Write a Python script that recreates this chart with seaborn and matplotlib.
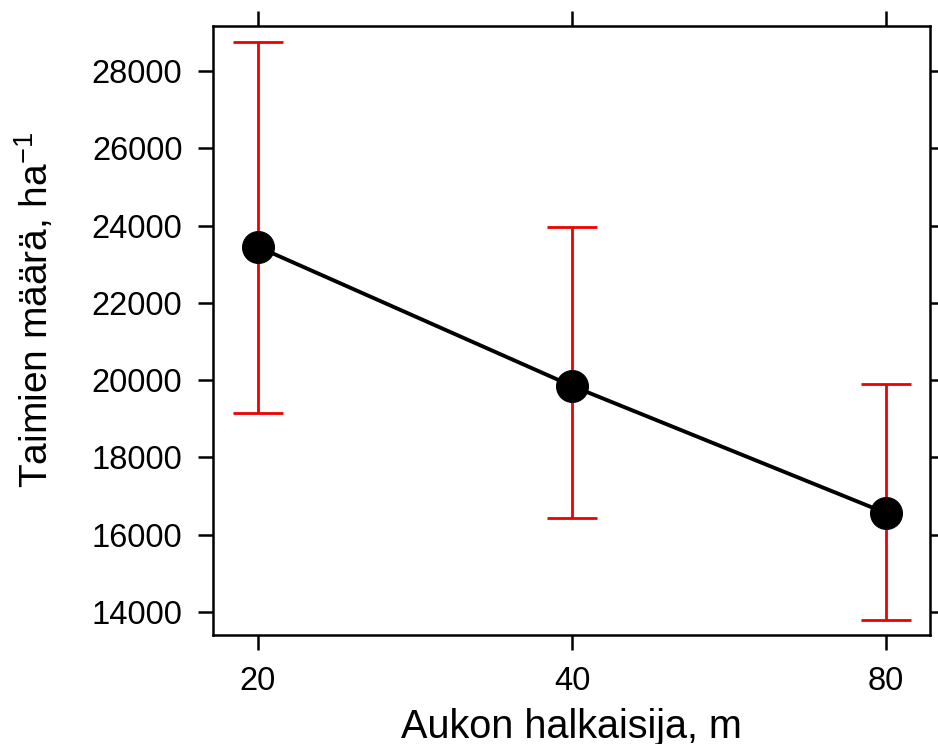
import matplotlib
matplotlib.use("Agg")
import matplotlib.pyplot as plt
import seaborn as sns
import numpy as np
import pandas as pd

categories = ["20", "40", "80"]
means = [23450, 19850, 16560]
lower = [19150, 16440, 13800]
upper = [28750, 23970, 19900]
yticks = [14000, 16000, 18000, 20000, 22000, 24000, 26000, 28000]

sns.set_theme(style="white")
plt.rcParams['font.family'] = ['Liberation Sans', 'DejaVu Sans']
plt.rcParams['mathtext.fontset'] = 'custom'
plt.rcParams['mathtext.rm'] = 'Liberation Sans'
plt.rcParams['mathtext.it'] = 'Liberation Sans:italic'
plt.rcParams['text.color'] = 'black'
plt.rcParams['axes.labelcolor'] = 'black'
plt.rcParams['xtick.color'] = 'black'
plt.rcParams['ytick.color'] = 'black'

fig = plt.figure(figsize=(9.38, 7.44), dpi=100)
ax = fig.add_axes([213/938, 1-635/744, (930-213)/938, (635-26)/744])

pos = np.arange(len(categories))
df = pd.DataFrame({"pos": pos, "mean": means})

m = np.array(means)
yerr = np.vstack([m - np.array(lower), np.array(upper) - m])
ax.errorbar(pos, means, yerr=yerr, fmt='none', ecolor='#ee0000', elinewidth=2.0,
            capsize=18, capthick=2.0, zorder=2)
sns.lineplot(data=df, x="pos", y="mean", ax=ax, color='black', linewidth=2.8,
             marker='o', markersize=23, markeredgecolor='black',
             markerfacecolor='black', zorder=3)

ax.set_xlim(-0.143, 2.14)
ax.set_ylim(13405, 29164)
ax.set_xticks(pos)
ax.set_xticklabels(categories)
ax.set_yticks(yticks)
ax.set_yticklabels([str(v) for v in yticks])

for s in ax.spines.values():
    s.set_visible(True)
    s.set_color('black')
    s.set_linewidth(1.8)

ax.tick_params(axis='both', which='both', direction='out', length=11, width=1.8,
               color='black', labelcolor='black', labelsize=23.5, pad=11,
               top=True, right=True, bottom=True, left=True,
               labeltop=False, labelright=False)
ax.grid(False)

ax.set_xlabel("Aukon halkaisija, m", fontsize=28.5, labelpad=8, color='black')
ax.set_ylabel("Taimien määrä, ha$^{\\mathrm{-1}}$", fontsize=28, labelpad=26, color='black')
ax.yaxis.label.set_y(0.534)

fig.savefig("out.png", dpi=100)
